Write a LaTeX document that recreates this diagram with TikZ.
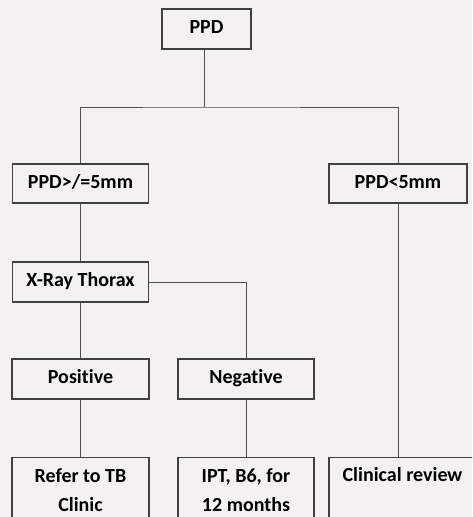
\documentclass[tikz,border=0pt]{standalone}
\usepackage{fontspec}
\setmainfont{Carlito}[Ligatures={NoCommon}]
\definecolor{paper}{HTML}{F3F1F2}
\definecolor{edge}{HTML}{404040}
\definecolor{wire}{HTML}{505050}
\tikzset{
  box/.style={draw=edge, line width=1.1pt, fill=paper, rectangle, inner sep=0pt,
    font=\fontsize{20}{29}\selectfont\bfseries, text height=13.5pt, text depth=4pt},
  tallbox/.style={box, anchor=north},
  lbl/.style={font=\fontsize{20}{29}\selectfont\bfseries, inner sep=0pt, anchor=base},
  wireline/.style={draw=wire, line width=1pt}
}
\begin{document}
\begin{tikzpicture}[x=1pt, y=-1pt]
  % page and background
  \fill[paper] (0,0) rectangle (472,517);
  \useasboundingbox (0,0) rectangle (472,517);
  \clip (0,0) rectangle (472,517);

  % boxes
  \node[box, minimum width=89pt, minimum height=40pt] (ppd) at (206.5,29) {PPD};
  \node[box, minimum width=136pt, minimum height=39pt] (ge) at (80.5,183.5) {PPD>/=5mm};
  \node[box, minimum width=138pt, minimum height=39pt] (lt) at (398,183.5) {PPD<5mm};
  \node[box, minimum width=136pt, minimum height=40pt] (xray) at (80.5,282) {X-Ray Thorax};
  \node[box, minimum width=137pt, minimum height=40pt] (pos) at (80.5,379) {Positive};
  \node[box, minimum width=136pt, minimum height=40pt] (neg) at (246,379) {Negative};

  % bottom row, running past the lower edge
  \node[tallbox, minimum width=137pt, minimum height=80pt] (refer) at (80.5,457) {};
  \node[tallbox, minimum width=136pt, minimum height=80pt] (ipt) at (246,457) {};
  \node[tallbox, minimum width=147pt, minimum height=80pt] (clin) at (402.5,457) {};
  \node[lbl] (refer1) at (80.5,482) {Refer to TB};
  \node[lbl] (refer2) at (80.5,511) {Clinic};
  \node[lbl] (ipt1) at (246,482) {IPT, B6, for};
  \node[lbl] (ipt2) at (246,511) {12 months};
  \node[lbl] (clin1) at (402.5,481) {Clinical review};

  % connectors
  \coordinate (split) at (204,107);
  \draw[wireline] (split |- ppd.south) -- (split);
  \draw[wireline] (ge.north) |- (split) -| (lt.north);
  \draw[wireline] (ge.south) -- (xray.north);
  \draw[wireline] (xray.south) -- (pos.north);
  \draw[wireline] (xray.east) -| (neg.north);
  \draw[wireline] (pos.south) -- (refer.north);
  \draw[wireline] (neg.south) -- (ipt.north);
  \draw[wireline] (lt.south) -- (lt.south |- clin.north);
\end{tikzpicture}
\end{document}
